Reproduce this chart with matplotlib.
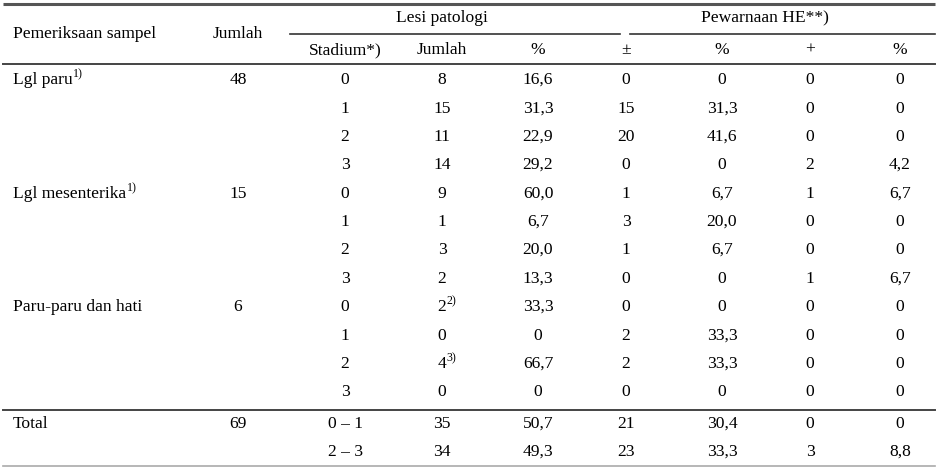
import matplotlib.pyplot as plt

plt.rcParams['font.family'] = ['Liberation Serif', 'DejaVu Serif']

# table content
samples = ["Lgl paru", "", "", "", "Lgl mesenterika", "", "", "",
           "Paru-paru dan hati", "", "", "", "Total", ""]
sample_sup = ["1)", "", "", "", "1)", "", "", "", "", "", "", "", "", ""]
jumlah = ["48", "", "", "", "15", "", "", "", "6", "", "", "", "69", ""]
stadium = ["0", "1", "2", "3", "0", "1", "2", "3", "0", "1", "2", "3",
           "0 \u2013 1", "2 \u2013 3"]
lesi_jumlah = ["8", "15", "11", "14", "9", "1", "3", "2", "2", "0", "4", "0",
               "35", "34"]
lesi_sup = ["", "", "", "", "", "", "", "", "2)", "", "3)", "", "", ""]
lesi_pct = ["16,6", "31,3", "22,9", "29,2", "60,0", "6,7", "20,0", "13,3",
            "33,3", "0", "66,7", "0", "50,7", "49,3"]
he_pm = ["0", "15", "20", "0", "1", "3", "1", "0", "0", "2", "2", "0",
         "21", "23"]
he_pm_pct = ["0", "31,3", "41,6", "0", "6,7", "20,0", "6,7", "0", "0",
             "33,3", "33,3", "0", "30,4", "33,3"]
he_plus = ["0", "0", "0", "2", "1", "0", "0", "1", "0", "0", "0", "0",
           "0", "3"]
he_plus_pct = ["0", "0", "0", "4,2", "6,7", "0", "0", "6,7", "0", "0", "0",
               "0", "0", "8,8"]

sub_headers = ["Stadium*)", "Jumlah", "%", "\u00b1", "%", "+", "%"]

fig = plt.figure(figsize=(9.4, 4.68), dpi=100)
ax = fig.add_axes([0, 0, 1, 1])
ax.set_xlim(0, 940)
ax.set_ylim(468, 0)
ax.axis("off")

fs = 12.6
col_x = [345, 442, 538, 626, 722, 810, 900]
row_y = [80, 109, 137, 165, 194, 222, 250, 279, 307, 336, 364, 392, 424, 452]

# rules
ax.plot([3, 935], [4, 4], color="#555555", lw=2.2, solid_capstyle="butt")
ax.plot([290, 620], [34, 34], color="#333333", lw=1.2)
ax.plot([630, 935], [34, 34], color="#333333", lw=1.2)
ax.plot([3, 935], [64, 64], color="#444444", lw=1.4)
ax.plot([3, 935], [410, 410], color="#444444", lw=1.4)
ax.plot([3, 935], [466, 466], color="#aaaaaa", lw=1.2)

# headers
ax.text(13, 34, "Pemeriksaan sampel", fontsize=fs, va="center", ha="left")
ax.text(238, 34, "Jumlah", fontsize=fs, va="center", ha="center")
ax.text(442, 18, "Lesi patologi", fontsize=fs, va="center", ha="center")
ax.text(765, 18, "Pewarnaan HE**)", fontsize=fs, va="center", ha="center")
for x, h in zip(col_x, sub_headers):
    ax.text(x, 50, h, fontsize=fs, va="center", ha="center")

fig.canvas.draw()
renderer = fig.canvas.get_renderer()


def sup_after(t, sup):
    # put a small superscript right after a drawn text
    bb = t.get_window_extent(renderer)
    x_end = ax.transData.inverted().transform((bb.x1, bb.y1))[0]
    y = t.get_position()[1]
    ax.text(x_end + 0.5, y - 6, sup, fontsize=fs * 0.68, va="center",
            ha="left")


columns = [stadium, lesi_jumlah, lesi_pct, he_pm, he_pm_pct, he_plus,
           he_plus_pct]
for i, y in enumerate(row_y):
    if samples[i]:
        t = ax.text(13, y, samples[i], fontsize=fs, va="center", ha="left")
        if sample_sup[i]:
            sup_after(t, sample_sup[i])
    if jumlah[i]:
        ax.text(238, y, jumlah[i], fontsize=fs, va="center", ha="center")
    for j, (x, col) in enumerate(zip(col_x, columns)):
        t = ax.text(x, y, col[i], fontsize=fs, va="center", ha="center")
        if j == 1 and lesi_sup[i]:
            sup_after(t, lesi_sup[i])

fig.savefig("out.png", dpi=100)
